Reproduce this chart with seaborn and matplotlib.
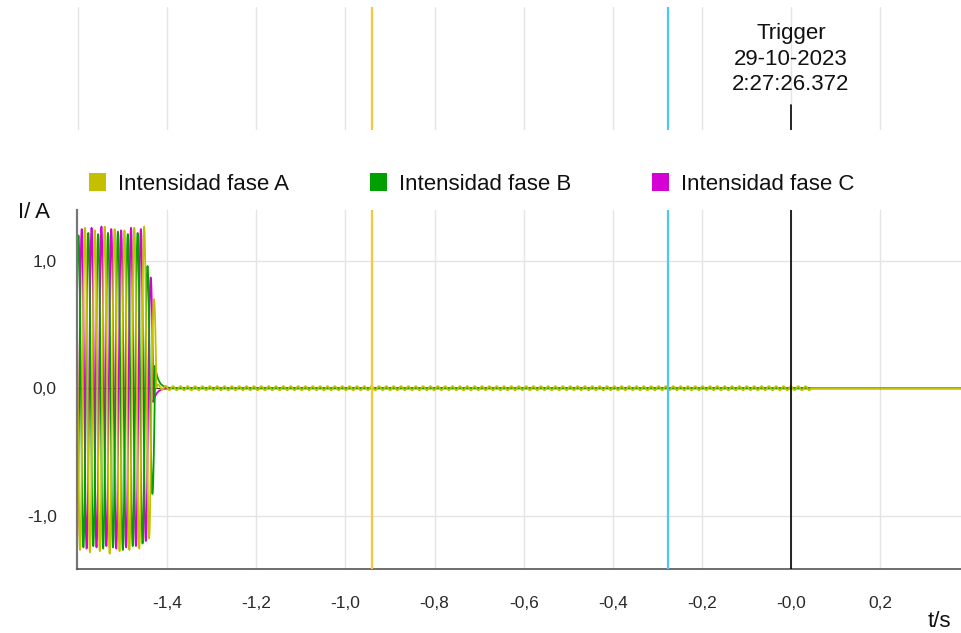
import numpy as np
import pandas as pd
import matplotlib
matplotlib.use("Agg")
import matplotlib.pyplot as plt
from matplotlib.patches import Rectangle
import seaborn as sns

# ---------------- data ----------------
series_names = ["Intensidad fase A", "Intensidad fase B", "Intensidad fase C"]
series_colors = ["#c4c000", "#00a000", "#d400d4"]

period_s = 0.02212                      # observed cycle length on the time axis
first_zero = [-1.6117, -1.6153, -1.6191]  # start of first drawn half-cycle, A/B/C
# signed half-cycle peak values (A, B, C)
half_peaks_A = [1.22, -1.27, 1.26, -1.29, 1.24, -1.28, 1.27, -1.30, 1.25,
                -1.28, 1.24, -1.27, 1.26, -1.26, 1.27, -1.18, 0.70]
half_peaks_B = [-1.24, 1.20, -1.25, 1.22, -1.24, 1.21, -1.26, 1.22, -1.25,
                1.23, -1.27, 1.21, -1.24, 1.22, -1.22, 0.96, -0.83]
half_peaks_C = [1.25, -1.21, 1.25, -1.26, 1.26, -1.25, 1.27, -1.24, 1.25,
                -1.26, 1.24, -1.25, 1.26, -1.24, 1.25, -1.20, 0.87]
residual_after_open = [0.02, 0.18, -0.11]   # value right after interruption
residual_tau = 0.008
ripple_amp_A = 0.016
ripple_period = 0.0165
ripple_end = 0.043
t_end = 0.381

marker_times = [-0.940, -0.276]
marker_colors = ["#f7c63a", "#4cc8f4"]
trigger_lines = ["Trigger", "29-10-2023", "2:27:26.372"]

xticks = [-1.6, -1.4, -1.2, -1.0, -0.8, -0.6, -0.4, -0.2, 0.0, 0.2]
xtick_labels = ["", "-1,4", "-1,2", "-1,0", "-0,8", "-0,6", "-0,4", "-0,2", "-0,0", "0,2"]
yticks = [-1.0, 0.0, 1.0]
ytick_labels = ["-1,0", "0,0", "1,0"]

# ---------------- build waveforms ----------------
dt = 0.0002
half = period_s / 2


def build(z0, peaks, resid, ripple):
    t = np.arange(z0, t_end + dt, dt)
    y = np.zeros_like(t)
    for j, p in enumerate(peaks):
        zs = z0 + j * half
        m = (t >= zs) & (t < zs + half)
        y[m] = p * np.sin(np.pi * (t[m] - zs) / half)
    tend = z0 + len(peaks) * half
    after = t >= tend
    y[after] = resid * np.exp(-(t[after] - tend) / residual_tau)
    if ripple > 0:
        rm = after & (t < ripple_end)
        y[rm] += ripple * np.sin(2 * np.pi * (t[rm] - tend) / ripple_period)
    return t, y


frames = []
for name, z0, pk, rs, rp in zip(series_names, first_zero,
                                 [half_peaks_A, half_peaks_B, half_peaks_C],
                                 residual_after_open, [ripple_amp_A, 0, 0]):
    t, y = build(z0, pk, rs, rp)
    frames.append(pd.DataFrame({"t": t, "I": y, "fase": name}))
df = pd.concat(frames, ignore_index=True)

# ---------------- figure ----------------
sns.set_style("white")
plt.rcParams["font.family"] = ["Liberation Sans", "DejaVu Sans"]

W, H = 961, 633
fig = plt.figure(figsize=(W / 100, H / 100), dpi=100)


def fx(px):
    return px / W


def fy(py):
    return 1 - py / H


ax = fig.add_axes([fx(77), fy(569), fx(961 - 77), (569 - 210) / H])
ax_top = fig.add_axes([fx(77), fy(130), fx(961 - 77), (130 - 7) / H])

xlim = (-1.602, t_end)

# main axes
for x in xticks[1:]:
    ax.axvline(x, color="#e4e4e4", lw=1, zorder=0)
for yv in [-1.0, 1.0]:
    ax.axhline(yv, color="#e4e4e4", lw=1, zorder=0)
ax.axhline(0, color="#333333", lw=0.9, zorder=1)

palette = dict(zip(series_names, series_colors))
sns.lineplot(data=df, x="t", y="I", hue="fase",
             hue_order=[series_names[2], series_names[1], series_names[0]],
             palette=palette, estimator=None, sort=False, lw=1.3,
             legend=False, ax=ax, zorder=2)

for mt, mc in zip(marker_times, marker_colors):
    ax.axvline(mt, color=mc, lw=1.6, zorder=3)
ax.axvline(0, color="black", lw=1.2, zorder=3)

ax.set_xlim(*xlim)
ax.set_ylim(-1.42, 1.40)
ax.set_xticks(xticks)
ax.set_xticklabels(xtick_labels)
ax.set_yticks(yticks)
ax.set_yticklabels(ytick_labels)
ax.set_xlabel("")
ax.set_ylabel("")
ax.tick_params(axis="x", direction="out", length=8.5, width=1.2, color="#444444",
               pad=11, labelsize=12.5, labelcolor="#2a2a2a")
ax.tick_params(axis="y", direction="out", length=9.5, width=1.2, color="#444444",
               pad=5, labelsize=12.5, labelcolor="#2a2a2a")
for s in ["top", "right"]:
    ax.spines[s].set_visible(False)
ax.spines["left"].set_color("#777777")
ax.spines["left"].set_linewidth(1.6)
ax.spines["bottom"].set_color("#555555")
ax.spines["bottom"].set_linewidth(1.2)

# top panel
ax_top.set_xlim(*xlim)
ax_top.set_ylim(0, 1)
ax_top.axis("off")
for x in xticks:
    if x == 0.0:
        ax_top.axvline(x, ymin=0.2, ymax=1, color="#e4e4e4", lw=1, zorder=0)
    else:
        ax_top.axvline(x, color="#e4e4e4", lw=1, zorder=0)
for mt, mc in zip(marker_times, marker_colors):
    ax_top.axvline(mt, color=mc, lw=1.6, zorder=3)
ax_top.axvline(0, ymin=0, ymax=0.2, color="black", lw=1.2, zorder=3)

for line, base in zip(trigger_lines, [39.5, 65, 90]):
    fig.text(fx(791), fy(base), line, ha="center", va="baseline",
             fontsize=16, color="#111111")

# legend
leg_sq_x = [89, 370, 652]
leg_tx_x = [118, 399, 681]
for name, col, sx, tx in zip(series_names, series_colors, leg_sq_x, leg_tx_x):
    fig.add_artist(Rectangle((fx(sx), fy(191)), fx(17), 18 / H,
                             transform=fig.transFigure, color=col, lw=0))
    fig.text(fx(tx), fy(189.5), name, ha="left", va="baseline",
             fontsize=16, color="#111111")

fig.text(fx(18), fy(218.5), "I/ A", ha="left", va="baseline", fontsize=16,
         color="#111111")
fig.text(fx(928), fy(627), "t/s", ha="left", va="baseline", fontsize=16,
         color="#111111")

fig.savefig("out.png", dpi=100)
